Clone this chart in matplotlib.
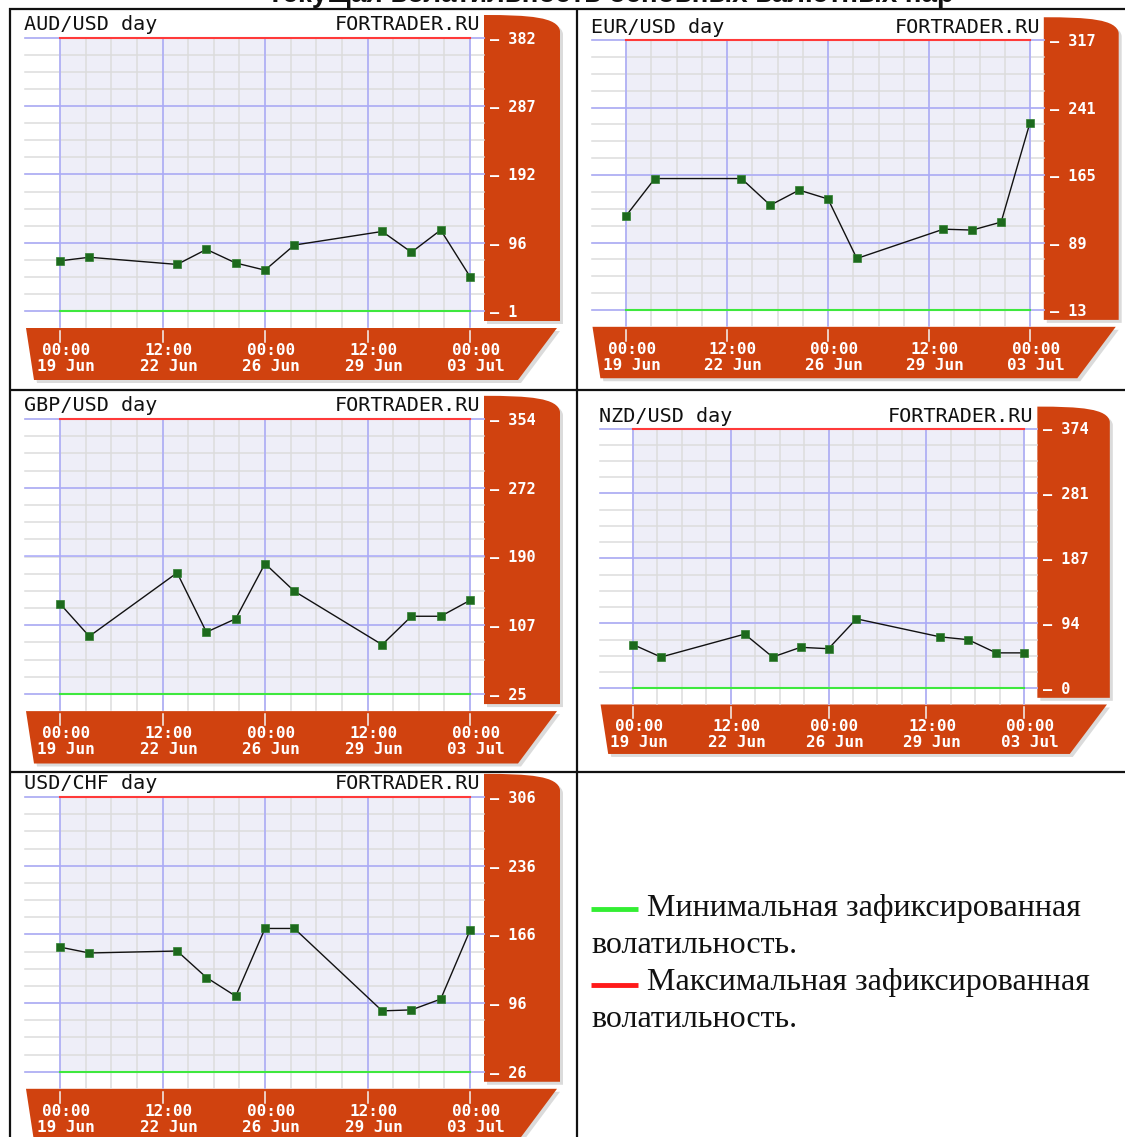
import numpy as np
import matplotlib
matplotlib.use('Agg')
import matplotlib.pyplot as plt
from matplotlib.path import Path
from matplotlib.patches import PathPatch, Polygon
from matplotlib.transforms import ScaledTranslation

W, H = 1125, 1137

# Data (daily volatility, points)
day_offsets = [0, 1, 4, 5, 6, 7, 8, 11, 12, 13, 14]
x_ticks = [0, 3.5, 7, 10.5, 14]
x_tick_labels = ['00:00\n19 Jun', '12:00\n22 Jun', '00:00\n26 Jun',
                 '12:00\n29 Jun', '00:00\n03 Jul']

aud_usd = [71, 76, 66, 87, 68, 58, 93, 112, 83, 114, 49]
eur_usd = [119, 161, 161, 131, 148, 138, 71, 104, 103, 112, 224]
gbp_usd = [133, 94, 170, 99, 115, 181, 148, 84, 118, 118, 137]
nzd_usd = [63, 45, 78, 45, 59, 57, 100, 74, 70, 51, 51]
usd_chf = [153, 147, 149, 122, 103, 172, 172, 88, 89, 100, 170]

aud_ticks = [382, 287, 192, 96, 1]
eur_ticks = [317, 241, 165, 89, 13]
gbp_ticks = [354, 272, 190, 107, 25]
nzd_ticks = [374, 281, 187, 94, 0]
chf_ticks = [306, 236, 166, 96, 26]

title = 'Текущая волатильность основных валютных пар'
legend_min = ['Минимальная зафиксированная', 'волатильность.']
legend_max = ['Максимальная зафиксированная', 'волатильность.']

ORANGE = '#d0420f'
LAVENDER = '#eeeef8'
GRAY = '#dcdcdc'
BLUE = '#a9a9fa'
MONO = 'DejaVu Sans Mono'

fig = plt.figure(figsize=(W / 100, H / 100), dpi=100)
fig.patch.set_facecolor('white')
bg = fig.add_axes([0, 0, 1, 1], zorder=0)
bg.set_xlim(0, W)
bg.set_ylim(H, 0)
bg.axis('off')

# table lines
line_kw = dict(color='#111111', lw=1.6, solid_capstyle='butt')
bg.plot([9, W], [8.5, 8.5], **line_kw)
bg.plot([9, W], [389.5, 389.5], **line_kw)
bg.plot([9, W], [771.5, 771.5], **line_kw)
bg.plot([9.5, 9.5], [8, H], **line_kw)
bg.plot([576.5, 576.5], [8, H], **line_kw)

# title, cut off by the top edge as in the source
bg.text(610, 2.5, title, ha='center', va='baseline', fontsize=20,
        fontweight='bold', family='Liberation Sans', color='#111111')


def draw_panel(name, values, yt, l, t, r, b):
    s = (r - l) / 410.0
    sy = (b - t) / 273.0

    # right orange bar with rounded top corner
    bx0, bx1 = r + 14 * s, r + 90 * s
    by0, by1 = t - 23 * sy, b + 10 * sy
    for dx, col, al in [(3, '#999999', 0.35), (0, ORANGE, 1.0)]:
        verts = [(bx0 + dx, by0 + dx), (bx0 + 45 * s + dx, by0 + dx),
                 (bx1 - 2 * s + dx, by0 + 2 * sy + dx), (bx1 + dx, by0 + 16 * sy + dx),
                 (bx1 + dx, by1 + dx), (bx0 + dx, by1 + dx), (bx0 + dx, by0 + dx)]
        codes = [Path.MOVETO, Path.CURVE4, Path.CURVE4, Path.CURVE4,
                 Path.LINETO, Path.LINETO, Path.CLOSEPOLY]
        bg.add_patch(PathPatch(Path(verts, codes), facecolor=col, edgecolor='none', alpha=al))

    # bottom orange bar, slanted right end
    y0, y1 = b + 17 * sy, b + 69 * sy
    for dx, col, al in [(3, '#999999', 0.35), (0, ORANGE, 1.0)]:
        pts = [(l - 34 * s + dx, y0 + dx), (r + 87 * s + dx, y0 + dx),
               (r + 48 * s + dx, y1 + dx), (l - 26 * s + dx, y1 + dx)]
        bg.add_patch(Polygon(pts, closed=True, facecolor=col, edgecolor='none', alpha=al))

    # panel title
    bg.text(l - 36 * s, t - 13 * sy, name.replace('_', ' '), ha='left', va='center',
            fontsize=14.5, family=MONO, color='#111111')
    bg.text(r + 10 * s, t - 13 * sy, 'FORTRADER.RU', ha='right', va='center',
            fontsize=14.5, family=MONO, color='#111111')

    ax = fig.add_axes([l / W, 1 - b / H, (r - l) / W, (b - t) / H], zorder=2)
    ax.set_facecolor(LAVENDER)
    ymin, ymax = yt[-1], yt[0]
    ax.set_xlim(0, 14)
    ax.set_ylim(ymin, ymax)
    for sp in ax.spines.values():
        sp.set_visible(False)

    ext_l = -35.0 / 410
    ext_r = 1 + 14.0 / 410
    ext_b = -16.0 / 273
    yt_tr = ax.get_yaxis_transform()
    xt_tr = ax.get_xaxis_transform()

    # light grid, extended outside the plot area
    for yv in np.linspace(ymin, ymax, 17):
        ax.plot([ext_l, ext_r], [yv, yv], transform=yt_tr, color=GRAY, lw=1.1,
                clip_on=False, zorder=1)
    for xv in np.arange(0, 14.01, 0.875):
        ax.plot([xv, xv], [1, ext_b], transform=xt_tr, color=GRAY, lw=1.1,
                clip_on=False, zorder=1)
    for yv in yt:
        ax.plot([ext_l, ext_r], [yv, yv], transform=yt_tr, color=BLUE, lw=1.1,
                clip_on=False, zorder=1.5)
    for xv in x_ticks:
        ax.plot([xv, xv], [1, ext_b], transform=xt_tr, color=BLUE, lw=1.1,
                clip_on=False, zorder=1.5)
        # white tick marks inside the bottom bar
        ax.plot([xv, xv], [-20.0 / 273, -31.0 / 273], transform=xt_tr,
                color='#f4f4f4', lw=1.1, clip_on=False, zorder=3)

    # max / min recorded volatility lines
    ax.plot([0, 14], [ymax, ymax], color='#ff3a3a', lw=1.5, clip_on=False, zorder=2)
    ax.plot([0, 14], [ymin, ymin], color='#3ee83e', lw=1.5, clip_on=False, zorder=2)

    ax.plot(day_offsets, values, color='#111111', lw=1.0, zorder=3, clip_on=False)
    ax.plot(day_offsets, values, ls='none', marker='s', ms=5.2, mfc='#1d6a1d',
            mec='#2f7f2f', mew=0.5, zorder=4, clip_on=False)

    # y tick labels on the orange bar
    ax.yaxis.tick_right()
    ax.set_yticks(yt)
    ax.set_yticklabels(['\u2014 %d' % v for v in yt])
    ax.tick_params(axis='y', length=0, pad=20 * s * 0.72, labelcolor='white',
                   labelsize=11)
    plt.setp(ax.get_yticklabels(), family=MONO, fontweight='bold')

    # x tick labels on the bottom bar
    ax.set_xticks(x_ticks)
    ax.set_xticklabels(x_tick_labels, linespacing=1.1)
    ax.tick_params(axis='x', length=0, pad=32 * sy * 0.72, labelcolor='white',
                   labelsize=11.5)
    shift = ScaledTranslation(6 / 100, 0, fig.dpi_scale_trans)
    for lab in ax.get_xticklabels():
        lab.set_family(MONO)
        lab.set_fontweight('bold')
        lab.set_transform(lab.get_transform() + shift)
    return ax


draw_panel('AUD/USD_day', aud_usd, aud_ticks, 60, 38, 470, 311)
draw_panel('EUR/USD_day', eur_usd, eur_ticks, 626, 40, 1030, 310)
draw_panel('GBP/USD_day', gbp_usd, gbp_ticks, 60, 419, 470, 694)
draw_panel('NZD/USD_day', nzd_usd, nzd_ticks, 633, 428.5, 1024, 688.3)
draw_panel('USD/CHF_day', usd_chf, chf_ticks, 60, 797, 470, 1071.7)

# legend text in the empty cell
bg.plot([591, 638], [909, 909], color='#33ee33', lw=3.5, solid_capstyle='butt')
bg.plot([591, 638], [985, 985], color='#ff1a1a', lw=3.5, solid_capstyle='butt')
leg_kw = dict(ha='left', va='baseline', fontsize=23, family='Liberation Serif', color='#111111')
bg.text(647, 916, legend_min[0], **leg_kw)
bg.text(591, 953, legend_min[1], **leg_kw)
bg.text(647, 990, legend_max[0], **leg_kw)
bg.text(591, 1027, legend_max[1], **leg_kw)

fig.savefig('out.png', dpi=100)
